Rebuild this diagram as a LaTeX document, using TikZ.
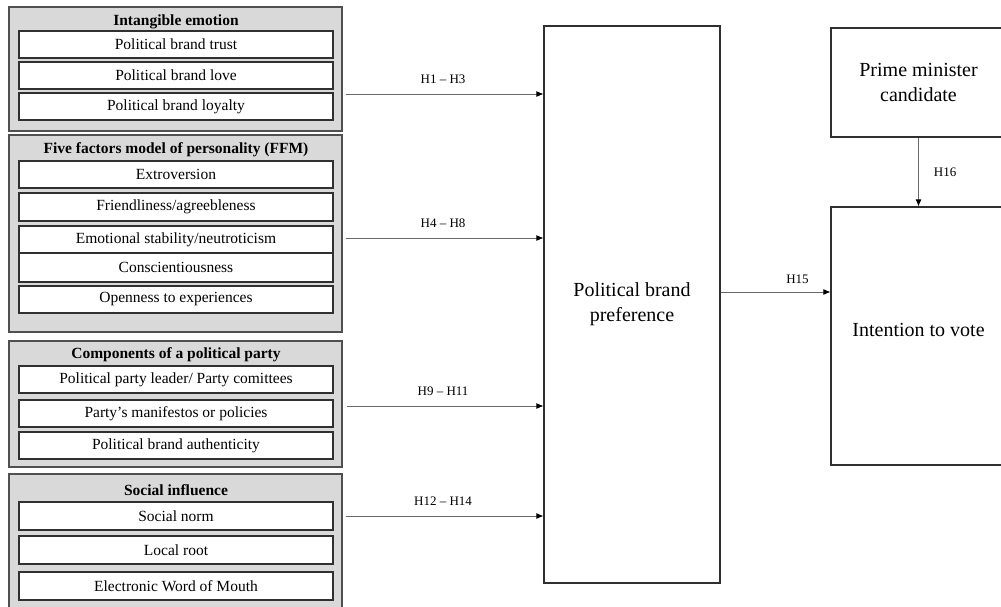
\documentclass[tikz,border=0pt]{standalone}
\usepackage{fontspec}
\setmainfont{Liberation Serif}
\usetikzlibrary{arrows.meta}

\definecolor{groupfill}{HTML}{D9D9D9}
\definecolor{groupline}{HTML}{505050}
\definecolor{boxline}{HTML}{303030}
\definecolor{arrowline}{HTML}{6A6A6A}

\tikzset{
  group/.style={draw=groupline, fill=groupfill, line width=1.2pt,
    minimum width=333pt, inner sep=0pt},
  grouptitle/.style={font=\fontsize{15.5}{18}\selectfont\bfseries, inner sep=0pt},
  item/.style={draw=boxline, fill=white, line width=1.1pt, minimum width=314pt,
    inner sep=0pt, font=\fontsize{15.5}{18}\selectfont},
  bigbox/.style={draw=boxline, fill=white, line width=1.1pt, inner sep=0pt,
    align=center, font=\fontsize{20}{25}\selectfont},
  arr/.style={draw=arrowline, line width=0.9pt,
    -{Latex[length=7pt,width=6pt,color=black]}},
  hlabel/.style={font=\fontsize{13}{15}\selectfont, inner sep=0pt}
}

\begin{document}
\begin{tikzpicture}[x=1pt,y=-1pt]
\clip (0,0) rectangle (1001,607);
\fill[white] (0,0) rectangle (1001,607);

% Group 1: intangible emotion
\node[group, minimum height=124pt] (g1) at (175.5,69) {};
\node[grouptitle] (t1) at (176,22) {Intangible emotion};
\node[item, minimum height=27pt] (i11) at (176,44.5) {Political brand trust};
\node[item, minimum height=27pt] (i12) at (176,75.5) {Political brand love};
\node[item, minimum height=27pt] (i13) at (176,106.5) {Political brand loyalty};

% Group 2: five factor model
\node[group, minimum height=197pt] (g2) at (175.5,233.5) {};
\node[grouptitle] (t2) at (176,150) {Five factors model of personality (FFM)};
\node[item, minimum height=27pt] (i21) at (176,174.5) {Extroversion};
\node[item, minimum height=28pt] (i22) at (176,207) {Friendliness/agreebleness};
\node[item, minimum height=27pt] (i23) at (176,239.5) {Emotional stability/neutroticism};
\node[item, minimum height=29pt] (i24) at (176,267.5) {Conscientiousness};
\node[item, minimum height=27pt] (i25) at (176,299.5) {Openness to experiences};

% Group 3: components of a political party
\node[group, minimum height=126pt] (g3) at (175.5,404) {};
\node[grouptitle] (t3) at (176,355) {Components of a political party};
\node[item, minimum height=27pt] (i31) at (176,379.5) {Political party leader/ Party comittees};
\node[item, minimum height=27pt] (i32) at (176,413.5) {Party’s manifestos or policies};
\node[item, minimum height=27pt] (i33) at (176,445.5) {Political brand authenticity};

% Group 4: social influence
\node[group, minimum height=146pt] (g4) at (175.5,547) {};
\node[grouptitle] (t4) at (176,490) {Social influence};
\node[item, minimum height=28pt] (i41) at (176,516) {Social norm};
\node[item, minimum height=28pt] (i42) at (176,550) {Local root};
\node[item, minimum height=28pt] (i43) at (176,586) {Electronic Word of Mouth};

% Central and outcome constructs
\node[bigbox, minimum width=176pt, minimum height=557pt] (pref) at (632,304.5)
  {Political brand\\preference};
\node[bigbox, minimum width=175pt, minimum height=109pt] (pm) at (918.5,82.5)
  {Prime minister\\candidate};
\node[bigbox, minimum width=175pt, minimum height=258pt] (vote) at (918.5,336)
  {\raisebox{12pt}{Intention to vote}};

% Hypothesised paths
\draw[arr, shorten <=3pt] ([yshift=-25pt]g1.east) -- ([yshift=-25pt]g1.east -| pref.west)
  node[hlabel, midway, above=10pt] {H1 – H3};
\draw[arr, shorten <=3pt] ([yshift=-4.5pt]g2.east) -- ([yshift=-4.5pt]g2.east -| pref.west)
  node[hlabel, midway, above=10pt] {H4 – H8};
\draw[arr, shorten <=4pt] ([yshift=-2pt]g3.east) -- ([yshift=-2pt]g3.east -| pref.west)
  node[hlabel, midway, above=10pt] {H9 – H11};
\draw[arr, shorten <=3pt] ([yshift=31pt]g4.east) -- ([yshift=31pt]g4.east -| pref.west)
  node[hlabel, midway, above=10pt] {H12 – H14};
\draw[arr] ([yshift=12.5pt]pref.east) -- ([yshift=12.5pt]pref.east -| vote.west)
  node[hlabel, pos=0.7, above=8pt] {H15};
\draw[arr] (pm.south) -- (vote.north)
  node[hlabel, midway, right=15pt] {H16};
\end{tikzpicture}
\end{document}
